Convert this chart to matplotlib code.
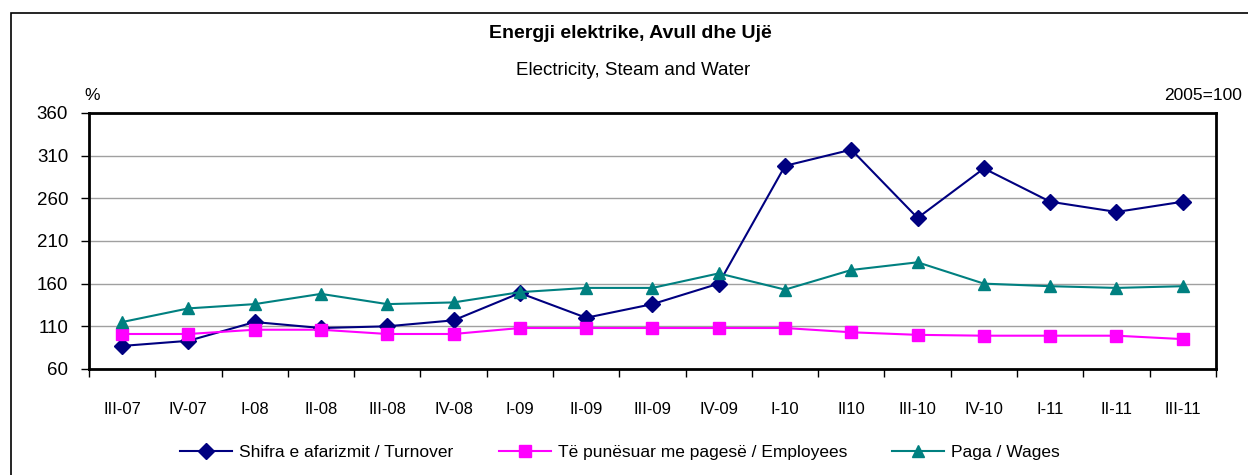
import numpy as np
import matplotlib.pyplot as plt
from matplotlib.patches import Rectangle

plt.rcParams['font.family'] = ['Liberation Sans', 'DejaVu Sans']

# Quarterly indices, 2005=100
quarters = ['III-07', 'IV-07', 'I-08', 'II-08', 'III-08', 'IV-08', 'I-09', 'II-09',
            'III-09', 'IV-09', 'I-10', 'II10', 'III-10', 'IV-10', 'I-11', 'II-11', 'III-11']
turnover = [87, 93, 115, 108, 110, 117, 149, 120, 136, 160, 298, 317, 237, 295, 256, 244, 256]
employees = [101, 101, 106, 106, 101, 101, 108, 108, 108, 108, 108, 103, 100, 99, 99, 99, 95]
wages = [115, 131, 136, 148, 136, 138, 150, 155, 155, 172, 153, 176, 185, 160, 157, 155, 157]

fig = plt.figure(figsize=(12.48, 4.75), dpi=100)
ax = fig.add_axes([0.0713, 0.2232, 0.903, 0.539])

# outer chart frame
fig.patches.append(Rectangle((11 / 1248, -0.01), 1.0, 0.983, transform=fig.transFigure,
                             fill=False, edgecolor='black', linewidth=1.2))

x = np.arange(len(quarters))
ax.plot(x, turnover, color='#000080', marker='D', markersize=8, linewidth=1.5,
        label='Shifra e afarizmit / Turnover')
ax.plot(x, employees, color='#FF00FF', marker='s', markersize=9, linewidth=1.5,
        label='Të punësuar me pagesë / Employees')
ax.plot(x, wages, color='#008080', marker='^', markersize=9, linewidth=1.5,
        label='Paga / Wages')

ax.set_xlim(-0.5, len(quarters) - 0.5)
ax.set_ylim(60, 360)
ax.set_yticks(np.arange(60, 361, 50))
ax.yaxis.grid(True, color='#a0a0a0', linewidth=1)
ax.set_axisbelow(True)

ax.set_xticks(x)
ax.set_xticklabels(quarters)
ax.set_xticks(np.arange(-0.5, len(quarters), 1), minor=True)
ax.tick_params(axis='x', which='major', length=0, pad=24, labelsize=12)
ax.tick_params(axis='x', which='minor', length=6, width=1, direction='out')
ax.tick_params(axis='y', length=6, width=1, labelsize=13.5, pad=9)

for s in ax.spines.values():
    s.set_linewidth(2)

fig.text(0.505, 0.93, 'Energji elektrike, Avull dhe Ujë', ha='center', va='center',
         fontsize=14, fontweight='bold')
fig.text(0.507, 0.852, 'Electricity, Steam and Water', ha='center', va='center', fontsize=13.5)
fig.text(0.074, 0.8, '%', ha='center', va='center', fontsize=12.5)
fig.text(0.995, 0.8, '2005=100', ha='right', va='center', fontsize=12.5)

fig.legend(loc='center', bbox_to_anchor=(0.497, 0.048), ncol=3, frameon=False,
           fontsize=12.5, handlelength=3.0, handletextpad=0.4, columnspacing=2.6)

fig.savefig('out.png', dpi=100)
